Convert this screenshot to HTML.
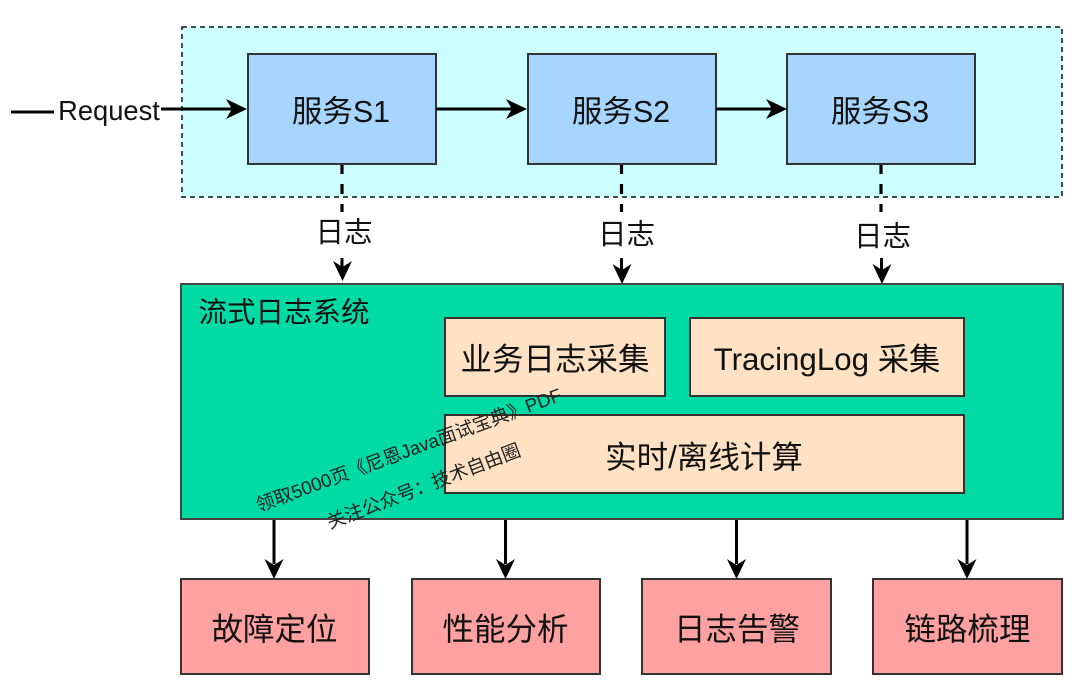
<!DOCTYPE html>
<html><head><meta charset="utf-8"><style>
html,body{margin:0;padding:0;background:#fff}
svg{display:block}
text{font-family:"Liberation Sans","Noto Sans CJK SC",sans-serif;fill:#111;text-anchor:middle}
.b{stroke:#333;stroke-width:2}
.c{stroke:#000;stroke-width:3;fill:none}
.d{stroke:#000;stroke-width:3.2;fill:none;stroke-dasharray:10 10;stroke-dashoffset:1}
</style></head><body>
<svg width="1080" height="690" viewBox="0 0 1080 690" xmlns="http://www.w3.org/2000/svg">
<rect x="182" y="27" width="880" height="170" fill="#ccffff" stroke="#111" stroke-width="1.5" stroke-dasharray="5 4"/>
<rect class="b" x="248" y="54" width="188" height="110" fill="#a6d5ff"/>
<rect class="b" x="528" y="54" width="188" height="110" fill="#a6d5ff"/>
<rect class="b" x="787" y="54" width="188" height="110" fill="#a6d5ff"/>
<text x="341" y="122" font-size="30.5">服务S1</text>
<text x="621" y="122" font-size="30.5">服务S2</text>
<text x="880" y="122" font-size="30.5">服务S3</text>

<path class="c" d="M11 112H54"/>
<path class="c" d="M161 109H234"/>
<path d="M247 109L226 119L232 109L226 99Z"/>
<text x="109" y="120" font-size="27.3">Request</text>
<path class="c" d="M436 109H514"/>
<path d="M527 109L506 119L512 109L506 99Z"/>
<path class="c" d="M716 109H774"/>
<path d="M787 109L766 119L772 109L766 99Z"/>

<path class="d" d="M342 165V212"/>
<path class="d" d="M621.500 165V212"/>
<path class="d" d="M881 165V212"/>
<path class="c" d="M342 258V268"/>
<path class="c" d="M621.500 258V272"/>
<path class="c" d="M881.500 258V272"/>
<path d="M342.500 281L333 261L342.500 267L352 261Z"/>
<path d="M622 284L612.500 264L622 270L631.500 264Z"/>
<path d="M882 284L872.500 264L882 270L891.500 264Z"/>
<text x="344" y="242" font-size="28.5">日志</text>
<text x="626.500" y="244" font-size="28.5">日志</text>
<text x="882.500" y="246" font-size="28.5">日志</text>

<rect x="181" y="284" width="882" height="235" fill="#00dba6" stroke="#444" stroke-width="2"/>
<text x="284" y="322" font-size="28.5">流式日志系统</text>
<rect class="b" x="445" y="318" width="220" height="78" fill="#ffe2c4"/>
<rect class="b" x="690" y="318" width="274" height="78" fill="#ffe2c4"/>
<rect class="b" x="445" y="415" width="519" height="78" fill="#ffe2c4"/>
<text x="555" y="370" font-size="31.5">业务日志采集</text>
<text x="827" y="370" font-size="31.3">TracingLog 采集</text>
<text x="704" y="468" font-size="31.5">实时/离线计算</text>

<g transform="translate(259,512) rotate(-20.2)"><text x="0" y="0" font-size="18.7" style="text-anchor:start;fill:#222">领取5000页《尼恩Java面试宝典》PDF</text></g>
<g transform="translate(330,529) rotate(-21)"><text x="0" y="0" font-size="18.7" style="text-anchor:start;fill:#222">关注公众号：技术自由圈</text></g>

<path class="c" d="M274 520V564"/><path d="M274 579L264.500 559L274 565L283.500 559Z"/>
<path class="c" d="M505.500 520V564"/><path d="M505.500 579L496 559L505.500 565L515 559Z"/>
<path class="c" d="M736.500 520V564"/><path d="M736.500 579L727 559L736.500 565L746 559Z"/>
<path class="c" d="M967 520V564"/><path d="M967 579L957.500 559L967 565L976.500 559Z"/>

<rect class="b" x="181" y="579" width="188" height="95" fill="#ffa1a1"/>
<rect class="b" x="412" y="579" width="188" height="95" fill="#ffa1a1"/>
<rect class="b" x="642" y="579" width="189" height="95" fill="#ffa1a1"/>
<rect class="b" x="873" y="579" width="189" height="95" fill="#ffa1a1"/>
<text x="274.500" y="640" font-size="31.5">故障定位</text>
<text x="505.500" y="640" font-size="31.5">性能分析</text>
<text x="737" y="640" font-size="31.5">日志告警</text>
<text x="967.500" y="640" font-size="31.5">链路梳理</text>
</svg>
</body></html>
